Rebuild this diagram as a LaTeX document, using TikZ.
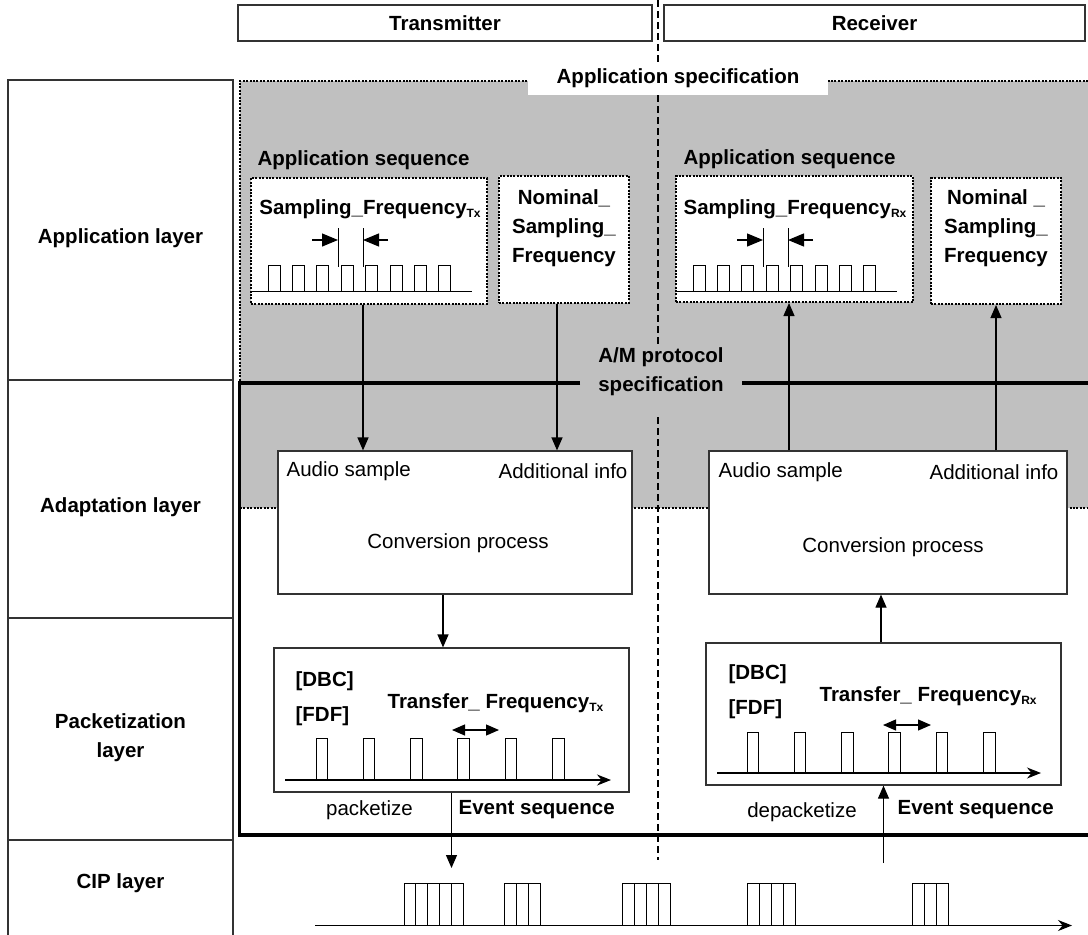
\documentclass[tikz,border=0pt]{standalone}
\usepackage{fontspec}
\setmainfont{Liberation Sans}
\usetikzlibrary{arrows.meta,calc}
\definecolor{appgray}{RGB}{192,192,192}
\newcommand{\diagfont}{\fontsize{20.5}{29}\selectfont}
\newcommand{\lowtext}[1]{\raisebox{-0.3ex}{\fontsize{12}{12}\selectfont #1}}
\tikzset{
diagram/.style={x=1pt,y=-1pt,>={Triangle[length=13pt,width=11pt]},
    line width=1.2pt,font=\diagfont},
column/.style={draw=black!80,line width=1.2pt},
layer/.style={inner sep=0pt,align=center,font=\diagfont\bfseries},
headbox/.style={rectangle,draw=black!80,minimum height=36pt,
    inner sep=0pt,font=\diagfont\bfseries},
seqbox/.style={rectangle,draw,fill=white,line width=2pt,
    dash pattern=on 2pt off 1.4pt},
procbox/.style={rectangle,draw=black!80,fill=white},
lbl/.style={inner sep=0pt,font=\diagfont\bfseries},
plain/.style={inner sep=0pt},
flow/.style={->},
gapmark/.style={-{Triangle[length=16pt,width=13pt]}},
axis/.style={-{Stealth[length=14pt,width=11pt]}},
dotline/.style={line width=2pt,dash pattern=on 2pt off 1.4pt},
dashline/.style={dash pattern=on 7pt off 4pt},
spec/.style={line width=3.5pt},
}

\begin{document}
\begin{tikzpicture}[diagram]
    \useasboundingbox (0,0) rectangle (1088,935);

    % application specification area
    \fill[appgray] (240,81) rectangle (1088,508);
    \draw[dotline] (1088,81) -- (240,81) -- (240,383);
    \draw[dotline] (240,508) -- (1088,508);
    \draw[dashline] (658,0) -- (658,62) (658,95) -- (658,345) (658,417) -- (658,860);
    \draw[spec] (580,383) -- (239.5,383) -- (239.5,835) -- (1088,835);
    \draw[spec] (742,383) -- (1088,383);

    \node[headbox,minimum width=414pt] (tx) at (445,23) {Transmitter};
    \node[headbox,minimum width=421pt] (rx) at (874.5,23) {Receiver};
    \node[lbl,fill=white,minimum width=300pt,minimum height=33pt] (appspec)
        at (678,78.5) {Application specification};
    \node[lbl,align=center] (amspec) at (661,372) {A/M protocol\\specification};

    % layers
    \draw[column] (8,80) rectangle (233,940);
    \draw[column] (8,380) -- (233,380) (8,618) -- (233,618) (8,840) -- (233,840);
    \node[layer] (applayer) at (120.5,238) {Application layer};
    \node[layer] (adaplayer) at (120.5,507) {Adaptation layer};
    \node[layer] (packlayer) at (120.5,737.5) {Packetization\\layer};
    \node[layer] (ciplayer) at (120.5,883) {CIP layer};

    % application sequences
    \node[lbl,anchor=west] (seqtx) at (257,160) {Application sequence};
    \node[lbl,anchor=west] (seqrx) at (683,159) {Application sequence};
    \node[seqbox,minimum width=236pt,minimum height=126pt] (sftx) at (369,241) {};
    \node[seqbox,minimum width=130pt,minimum height=127pt] (nomtx) at (564,239.5) {};
    \node[seqbox,minimum width=237pt,minimum height=126pt] (sfrx) at (794.5,239) {};
    \node[seqbox,minimum width=130pt,minimum height=126pt] (nomrx) at (996,241) {};
    \node[lbl] (sftxt) at (370,209) {Sampling\_Frequency\lowtext{Tx}};
    \node[lbl] (sfrxt) at (795,209) {Sampling\_Frequency\lowtext{Rx}};
    \node[lbl,align=center] (nomtxt) at (564,228) {Nominal\_\\Sampling\_\\Frequency};
    \node[lbl,align=center] (nomrxt) at (996,228) {Nominal \_\\Sampling\_\\Frequency};

    \foreach \ox in {0,425} {
        \foreach \i in {0,...,7}
            \draw[line width=1pt] ({268+\ox+\i*24.4},291.5) rectangle +(12,-26);
        \draw[line width=1pt] ({251+\ox},291.5) -- +(221,0);
        \draw[line width=1pt] ({338+\ox},228) -- +(0,39) ({363+\ox},228) -- +(0,39);
        \draw[gapmark] ({312+\ox},240) -- +(26,0);
        \draw[gapmark] ({388+\ox},240) -- +(-25,0);
    }

    % adaptation
    \node[procbox,minimum width=354pt,minimum height=143pt] (convtx) at (455,522.5) {};
    \node[procbox,minimum width=358pt,minimum height=143pt] (convrx) at (888,522.5) {};
    \node[plain,anchor=west] (audtx) at (286,471) {Audio sample};
    \node[plain,anchor=east] (addtx) at (628,471) {Additional info};
    \node[plain] (proctx) at (458,543) {Conversion process};
    \node[plain,anchor=west] (audrx) at (718,472) {Audio sample};
    \node[plain,anchor=east] (addrx) at (1059,472) {Additional info};
    \node[plain] (procrx) at (893,547) {Conversion process};

    \draw[flow] ([xshift=-6pt]sftx.south) -- ([xshift=-6pt]sftx.south |- convtx.north);
    \draw[flow] ([xshift=-7pt]nomtx.south) -- ([xshift=-7pt]nomtx.south |- convtx.north);
    \draw[flow] ([xshift=-5.5pt]sfrx.south |- convrx.north) -- ([xshift=-5.5pt]sfrx.south);
    \draw[flow] (nomrx.south |- convrx.north) -- (nomrx.south);

    % packetization
    \node[procbox,minimum width=355pt,minimum height=144pt] (packtx) at (451.5,720) {};
    \node[procbox,minimum width=355pt,minimum height=142pt] (packrx) at (883.5,714) {};
    \draw[flow] ([xshift=-12pt]convtx.south) -- ([xshift=-12pt]convtx.south |- packtx.north);
    \draw[flow] ([xshift=-7pt]convrx.south |- packrx.north) -- ([xshift=-7pt]convrx.south);

    \node[lbl,anchor=west] (dbctx) at (295,681) {[DBC]};
    \node[lbl,anchor=west] (fdftx) at (295,716) {[FDF]};
    \node[lbl,anchor=west] (trtx) at (387,703) {Transfer\_ Frequency\lowtext{Tx}};
    \node[lbl,anchor=west] (dbcrx) at (728,674) {[DBC]};
    \node[lbl,anchor=west] (fdfrx) at (728,709) {[FDF]};
    \node[lbl,anchor=west] (trrx) at (819,696) {Transfer\_ Frequency\lowtext{Rx}};
    \draw[<->] (452,730) -- (499,730);
    \draw[<->] (883,725) -- (931,725);
    \foreach \i in {0,...,5} {
        \draw[line width=1pt] ({316+\i*47.3},780) rectangle +(11.5,-42);
        \draw[line width=1pt] ({747+\i*47.3},773) rectangle +(11.5,-41);
    }
    \draw[axis] (285,780) -- (611,780);
    \draw[axis] (717,773) -- (1041,773);

    \node[plain] (pktize) at (369.5,810) {packetize};
    \node[lbl,anchor=west] (evtx) at (458,810) {Event sequence};
    \node[plain] (depktize) at (802,812) {depacketize};
    \node[lbl,anchor=west] (evrx) at (897,810) {Event sequence};

    % CIP packets
    \coordinate (ciptx) at (451.5,868);
    \coordinate (ciprx) at (883.5,863);
    \draw[flow] (packtx.south) -- (ciptx);
    \draw[flow] (ciprx) -- (packrx.south);
    \foreach \gx/\cnt in {404/5,504.6/3,622.8/4,747.5/4,912.7/3}
        \foreach \j in {1,...,\cnt}
            \draw[line width=1pt] ({\gx+(\j-1)*11.9},925.5) rectangle +(11.9,-42.5);
    \draw[axis] (315,925.5) -- (1072,925.5);
\end{tikzpicture}
\end{document}
